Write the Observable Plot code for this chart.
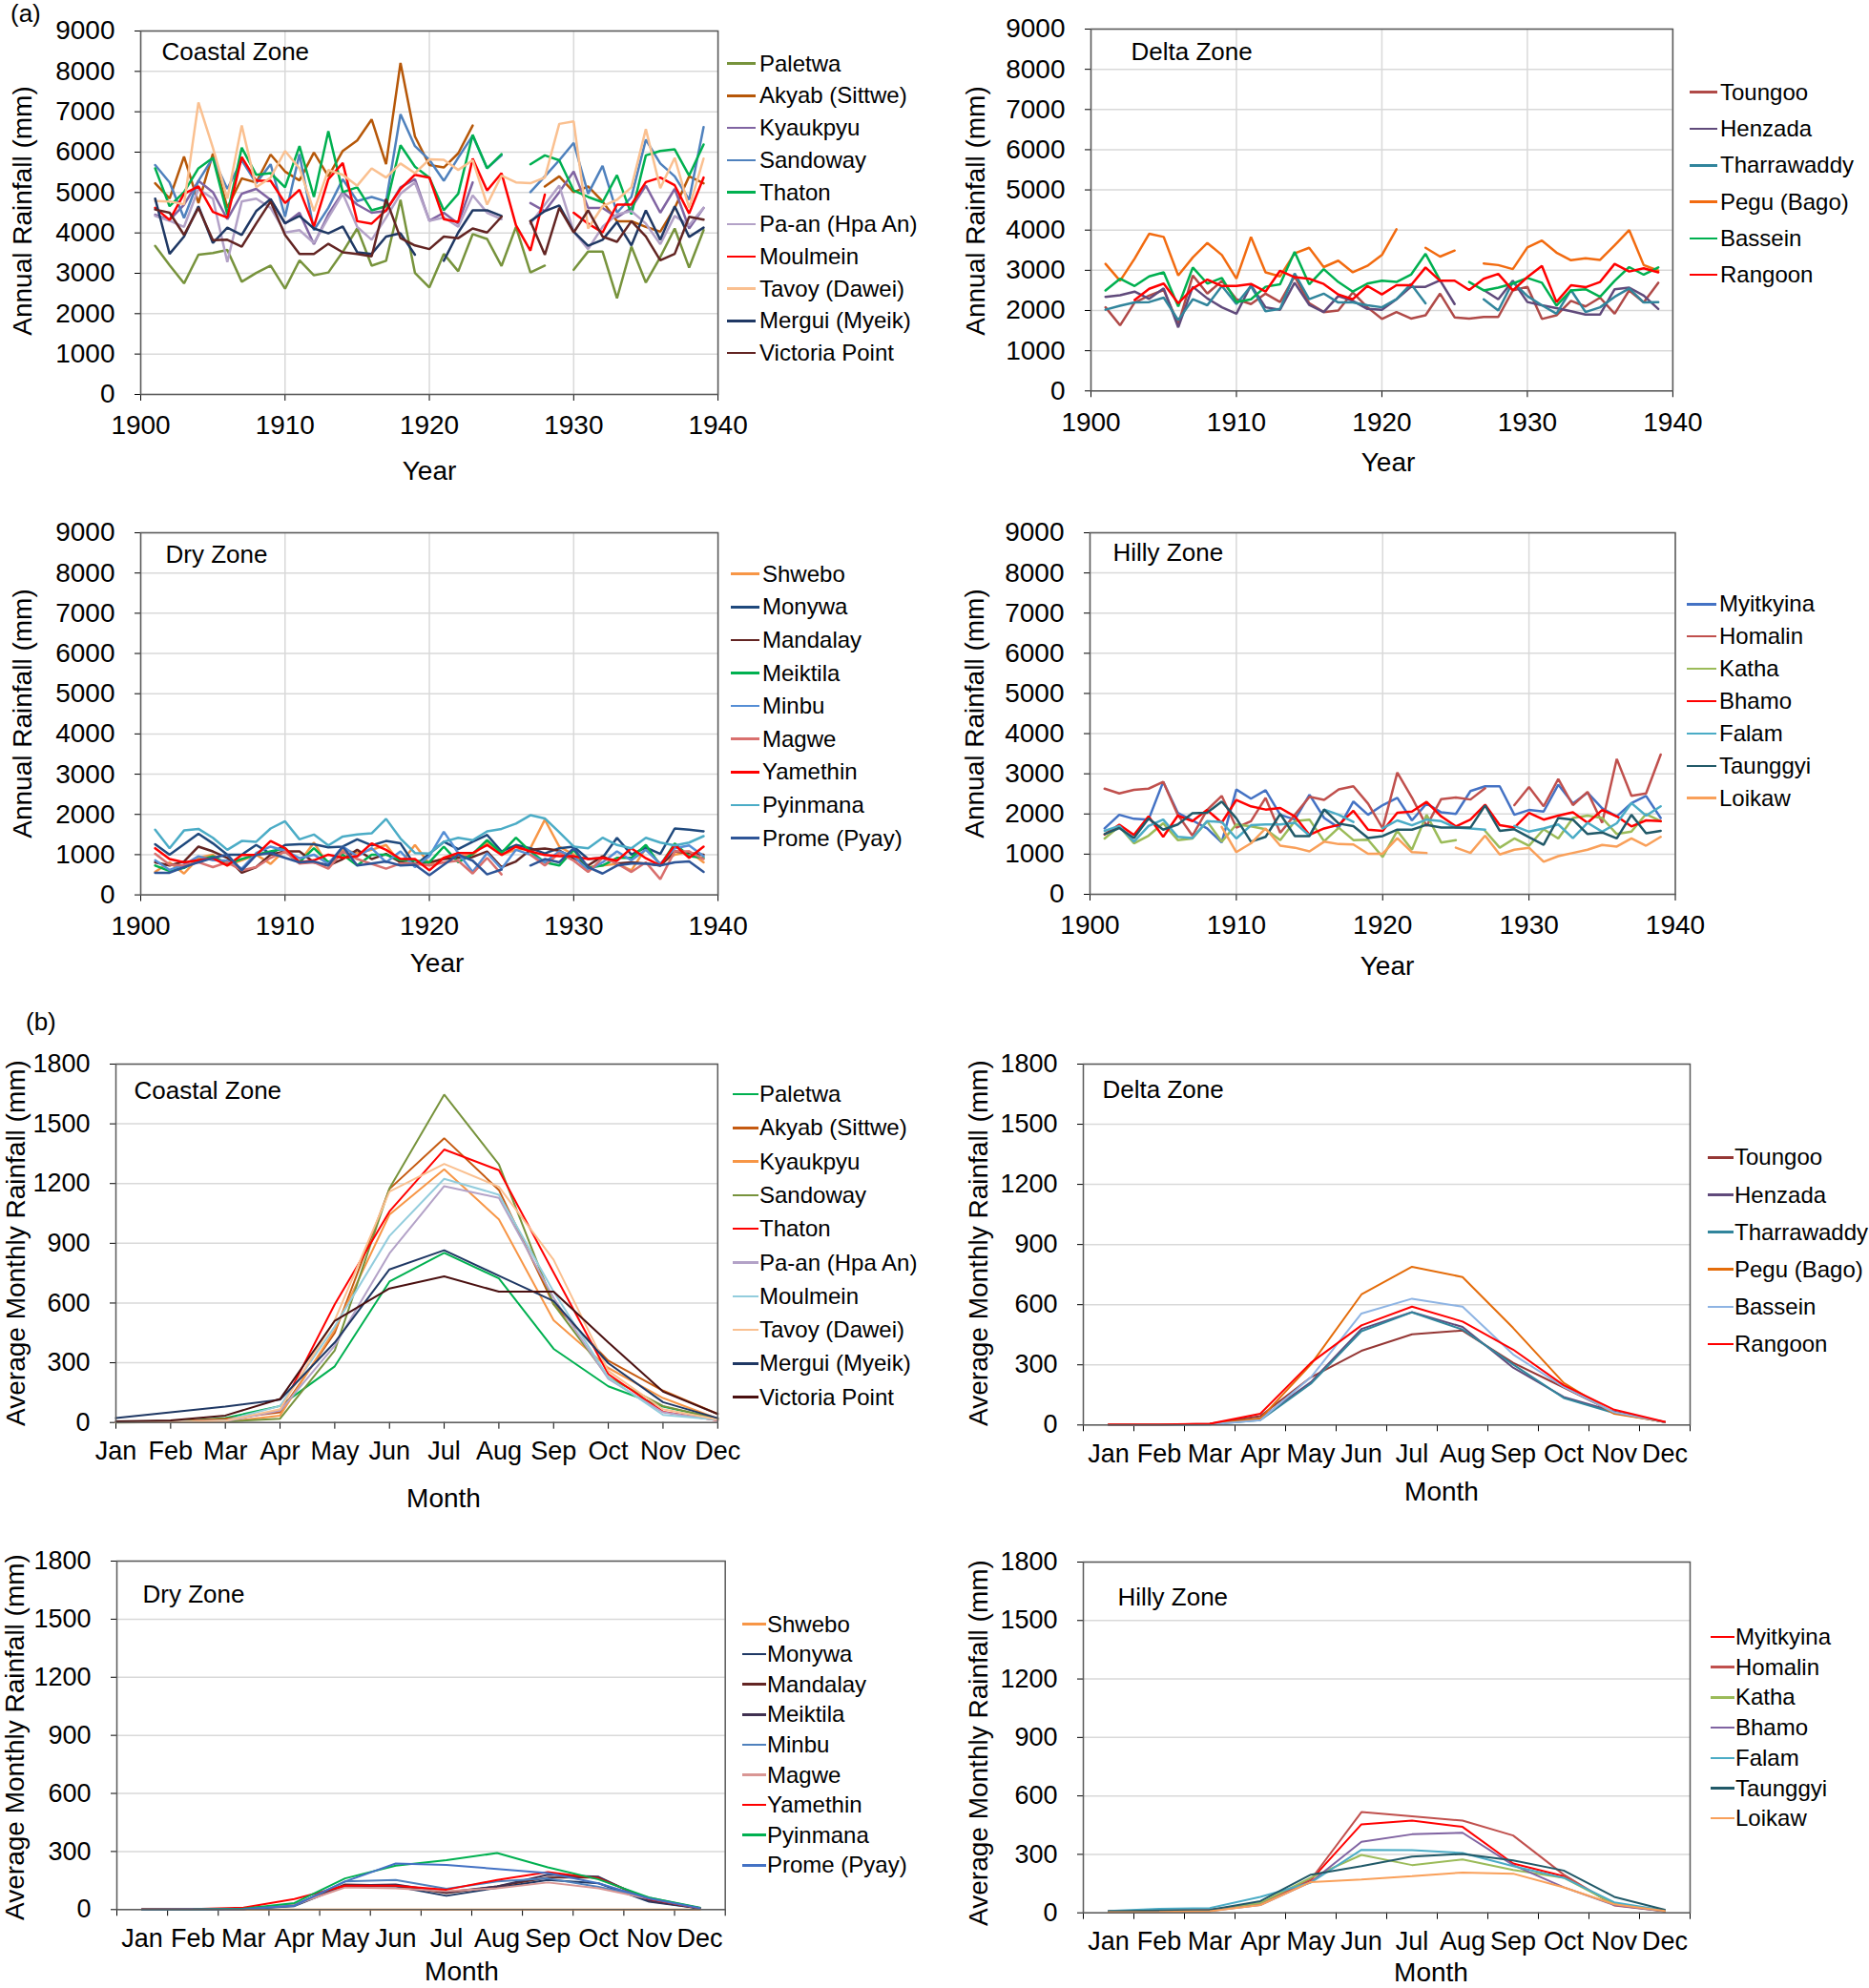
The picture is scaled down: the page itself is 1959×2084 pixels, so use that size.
<!DOCTYPE html>
<html><head><meta charset="utf-8">
<script src="https://cdn.jsdelivr.net/npm/d3@7"></script>
<script src="https://cdn.jsdelivr.net/npm/@observablehq/plot@0.6"></script>
<style>
body{margin:0;background:#fff;}
#root{position:relative;width:1959px;height:2084px;overflow:hidden;font-family:"Liberation Sans",Arial,sans-serif;color:#000;background:#fff;}
.t{position:absolute;white-space:nowrap;line-height:1;}
</style></head><body><div id="root"></div>
<script>
// ---------- categories ----------
const years = [1901,1902,1903,1904,1905,1906,1907,1908,1909,1910,1911,1912,1913,1914,1915,1916,1917,1918,1919,1920,1921,1922,1923,1924,1925,1926,1927,1928,1929,1930,1931,1932,1933,1934,1935,1936,1937,1938,1939];
const months = ["Jan","Feb","Mar","Apr","May","Jun","Jul","Aug","Sep","Oct","Nov","Dec"];
const monthIdx = [0,1,2,3,4,5,6,7,8,9,10,11];
const yearTicks = [1900,1910,1920,1930,1940];
const annualTicks = [0,1000,2000,3000,4000,5000,6000,7000,8000,9000];
const monthlyTicks = [0,300,600,900,1200,1500,1800];

// ---------- (a) Coastal annual ----------
const coastalNames = ["Paletwa","Akyab (Sittwe)","Kyaukpyu","Sandoway","Thaton","Pa-an (Hpa An)","Moulmein","Tavoy (Dawei)","Mergui (Myeik)","Victoria Point"];
const coastalColorsA = ["#77933C","#B65708","#8064A2","#4F81BD","#00B050","#B3A2C7","#FF0000","#FAC090","#1F3864","#632523"];
const paletwaA = [3680,3200,2750,3460,3500,3580,2790,3010,3190,2620,3320,2950,3020,3530,4110,3190,3310,4820,3010,2650,3480,3050,3970,3850,3180,4150,3020,3190,null,3090,3540,3540,2380,3660,2770,3400,4110,3140,4070];
const akyabA = [5230,4850,5890,4740,5960,4620,5350,5250,5940,5520,5300,5990,5400,6030,6290,6810,5700,8210,6390,5680,5620,5970,6660,null,null,null,null,5150,5400,5010,5150,4780,4290,4290,4150,4030,4620,5400,5230];
const kyaukpyuA = [4450,4320,4700,5290,5010,4340,4970,5090,4820,4230,4500,3720,4460,5010,4700,4500,4540,5130,5330,4300,4500,4230,5250,null,null,null,4740,4540,5010,5520,4620,4620,4380,4620,5170,4500,5090,4110,4620];
const sandowayA = [5680,5250,4370,5290,5860,5090,5800,5230,5700,4400,5950,4070,4620,5330,4790,4890,4780,6940,6150,5810,5290,5860,6410,5600,5920,null,5010,5400,5800,6230,4970,5660,4500,4890,6310,5720,5400,4820,6620];
const thatonA = [5600,4660,5010,5600,5860,4460,6110,5440,5480,5130,6150,4890,6520,5010,5130,4560,4660,6170,5640,5370,4560,4970,6430,5600,5950,null,5700,5920,5800,5050,4890,4760,5430,4460,5920,6030,6070,5420,6190];
const paanA = [4420,4300,4150,5090,4850,3280,4780,4850,4620,4010,4070,3750,4380,4970,4150,3830,4380,4970,5250,4300,4380,4150,4930,4500,4340,null,4230,4700,5170,4030,3600,4150,4460,4540,4230,3720,4420,4190,4620];
const moulmeinA = [4620,4320,4970,5150,4520,4380,5880,5290,5290,4740,5070,4160,5330,5730,4290,4230,4560,5090,5440,5370,4340,4270,5840,5050,5480,4190,3560,4950,null,4500,4230,4010,4700,4700,5260,5370,5180,4480,5370];
const tavoyA = [4790,4780,4710,7230,6110,4850,6660,5130,5370,6030,5600,4540,5560,5440,5170,5600,5370,5720,5480,5820,5810,5560,5800,4700,5420,5250,5230,5370,6700,6760,4110,4660,4820,5130,6570,5110,5860,4620,5840];
const merguiA = [4850,3480,3910,4660,3750,4130,3950,4540,4840,4240,4420,4110,3990,4160,3520,3480,3910,3990,3460,null,3310,4010,4560,4560,4420,null,4290,4540,4680,4030,3680,3830,4270,3690,4560,3830,4660,3900,4130];
const victoriaA = [4580,4500,3950,4620,3820,3830,3660,4230,4780,3950,3480,3480,3730,3520,3480,3420,4840,3870,3690,3600,3910,3870,4110,4010,4400,null,4290,3460,4620,4010,4560,3910,3780,4290,3910,3320,3480,4400,4330];

// ---------- (a) Delta annual ----------
const deltaNames = ["Toungoo","Henzada","Tharrawaddy","Pegu (Bago)","Bassein","Rangoon"];
const deltaColorsA = ["#B04A48","#604A7B","#31859C","#F26B10","#00B050","#FF0000"];
const toungooA = [2080,1630,2200,2370,2510,1660,2870,2420,2740,2280,2160,2420,2210,2850,2180,1960,2000,2450,2080,1790,1960,1800,1880,2420,1830,1800,1840,1840,2500,2590,1790,1880,2240,2100,2320,1920,2500,2200,2690];
const henzadaA = [2340,2380,2470,2290,2550,1580,2590,2300,2080,1920,2630,2080,2020,2690,2140,1960,2360,2240,2040,2020,2280,2590,2590,2750,2160,null,2510,2280,2740,2210,2130,2060,1980,1900,1900,2530,2570,2370,2040];
const tharrawaddyA = [2020,2120,2200,2210,2320,1760,2280,2130,2610,2160,2610,1980,2040,2920,2280,2420,2200,2200,2130,2080,2280,2660,2180,null,null,null,2280,2000,2710,2360,2130,1920,2510,1960,2080,2340,2550,2200,2210];
const peguA = [3160,2740,3290,3910,3830,2870,3320,3680,3380,2790,3830,2950,2850,3420,3560,3080,3240,2950,3110,3380,4020,null,3560,3340,3490,null,3170,3130,3030,3570,3740,3440,3250,3300,3260,3620,4000,3130,2990];
const basseinA = [2500,2790,2610,2850,2950,2100,3070,2670,2810,2210,2280,2590,2650,3460,2650,3030,2710,2470,2670,2740,2710,2890,3410,2750,null,2710,2500,2570,2670,2810,2690,2120,2500,2530,2340,2740,3080,2890,3070];
const rangoonA = [null,null,2260,2540,2670,2180,2550,2770,2610,2610,2660,2470,2990,2830,2790,2660,2400,2280,2610,2400,2630,2630,3070,2740,2740,2510,2790,2910,2500,2830,3110,2210,2630,2580,2710,3160,2970,3050,2950];

// ---------- (a) Dry annual ----------
const dryNames = ["Shwebo","Monywa","Mandalay","Meiktila","Minbu","Magwe","Yamethin","Pyinmana","Prome (Pyay)"];
const dryColorsA = ["#F79646","#1F497D","#632523","#00B050","#558ED5","#D9706E","#FF0000","#4BACC6","#2E5597"];
const shweboA = [570,810,530,920,1000,730,860,1000,770,1120,810,1300,730,1120,1040,1120,1240,780,1240,770,920,960,990,1320,1000,1120,1160,1870,1200,1000,690,730,770,610,1160,770,1000,1080,810];
const monywaA = [1260,1000,1260,1520,1280,1000,1000,1240,1020,1240,1260,1260,1180,1200,1380,1230,1340,1280,730,1020,1320,1140,1320,1490,1080,1240,1160,1030,1160,1200,890,920,1420,1000,1180,1020,1650,1620,1580];
const mandalayA = [810,730,830,1200,1080,920,550,690,1000,1080,1080,810,730,890,1120,890,1020,810,770,810,890,920,940,1080,690,830,1120,1150,1100,910,730,960,780,810,780,730,1080,1040,1000];
const meiktilaA = [730,590,670,860,960,770,890,1000,1080,1160,810,1160,810,1000,730,1000,1000,860,850,810,1200,810,1020,1360,1040,1420,1080,810,730,1120,670,730,920,920,1240,730,1280,960,920];
const minbuA = [860,620,750,960,860,850,650,1040,1200,1100,910,1000,770,1200,960,1160,810,1080,690,960,1570,1040,570,1040,650,1120,1000,810,1080,960,610,810,1080,860,1120,770,1160,1230,960];
const magweA = [1020,750,730,810,690,810,610,690,920,1080,780,810,650,1080,890,770,650,780,770,730,810,850,530,920,510,null,1000,730,1040,850,570,920,780,570,810,390,1080,1080,890];
const yamethinA = [1160,890,810,860,910,730,990,990,1340,1160,810,860,1000,920,960,1280,1120,890,890,610,920,1040,1040,1240,990,1200,1080,990,960,960,890,920,850,1160,910,730,1240,920,1200];
const pyinmanaA = [1620,1160,1600,1640,1420,1120,1340,1320,1650,1830,1380,1500,1230,1450,1500,1530,1890,1400,1040,1030,1320,1420,1360,1580,1640,1770,1980,1900,1560,1200,1160,1420,1240,1160,1420,1300,1230,1300,1460];
const promeA = [550,550,690,810,920,1000,610,990,1040,920,810,830,730,1200,730,780,830,730,750,490,750,1000,850,510,630,null,730,890,810,1160,690,530,730,780,780,730,810,830,570];

// ---------- (a) Hilly annual ----------
const hillyNames = ["Myitkyina","Homalin","Katha","Bhamo","Falam","Taunggyi","Loikaw"];
const hillyColorsA = ["#4472C4","#C0504D","#9BBB59","#FF0000","#4BACC6","#215968","#F9A05A"];
const myitkyinaA = [1640,1980,1880,1860,2800,2030,1840,1640,1290,2610,2380,2590,1980,1860,2480,1900,1660,2310,1980,2220,2400,1840,2260,2040,2000,2570,2690,2690,1980,2100,2060,2730,2260,2530,2140,1940,2270,2450,1900];
const homalinA = [2630,2510,2600,2630,2800,1980,1460,2100,2450,1660,1820,2400,1530,1980,2430,2350,2610,2690,2260,1640,3030,2410,1700,2370,2410,2360,2640,null,2220,2670,2190,2870,2220,2550,1780,3370,2450,2510,3480];
const kathaA = [1390,1690,1270,1460,1770,1350,1390,1820,1310,1740,1690,1620,1350,1820,1860,1320,1660,1350,1360,930,1580,1110,1980,1290,1350,null,1580,1160,1390,1210,1620,1390,1900,1960,1900,1500,1560,2000,1820];
const bhamoA = [1490,1730,1480,1940,1430,1960,1820,2100,1780,2350,2190,2110,2150,1940,1480,1640,1730,2080,1610,1580,2030,2060,2300,1940,1690,1860,2230,1720,1660,2030,1860,1960,2040,1780,2100,1940,1690,1840,1820];
const falamA = [1580,1700,1310,1700,1860,1430,1400,1820,1800,1390,1720,1740,1740,1780,1460,2110,1980,1800,null,1640,1840,1720,1860,1820,1660,1640,1610,null,1700,1560,1640,1740,1400,1780,1560,1770,2270,1960,2190];
const taunggyiA = [1500,1650,1400,1890,1610,1740,2020,2030,2310,1890,1310,1430,2000,1450,1450,2110,1760,1700,1400,1450,1610,1610,1730,1660,1660,1660,2210,1580,1620,1420,1230,1900,1860,1500,1540,1390,1980,1520,1580];
const loikawA = [null,null,null,null,null,null,null,null,1680,1050,1270,1640,1210,1160,1070,1310,1250,1240,1010,1010,1400,1050,1030,null,1160,1030,1460,990,1110,1160,810,950,1030,1110,1230,1190,1390,1210,1430];

// ---------- (b) monthly ----------
const coastalColorsB = ["#00B050","#C55A11","#F79646","#77933C","#FF0000","#B3A2C7","#93CDDD","#FAC090","#1F3864","#4A1010"];
const paletwaB = [1,2,22,83,282,708,852,724,370,182,80,19];
const akyabB = [2,3,19,51,450,1173,1428,1168,594,310,160,43];
const kyaukpyuB = [1,1,3,35,466,1044,1272,1020,514,274,123,19];
const sandowayB = [0,2,5,19,362,1176,1647,1296,594,227,83,19];
const thatonB = [2,3,10,59,594,1060,1371,1267,753,243,54,11];
const paanB = [1,2,6,59,386,849,1187,1128,626,219,51,12];
const moulmeinB = [1,3,10,83,482,937,1224,1144,657,227,38,14];
const tavoyB = [1,2,8,67,514,1160,1299,1184,817,259,67,15];
const merguiB = [22,51,80,115,402,769,865,737,610,298,102,22];
const victoriaB = [6,11,35,118,511,673,734,657,657,402,155,43];

const deltaColorsB = ["#953735","#604A7B","#31859C","#E46C0A","#8EB4E3","#FF0000"];
const toungooB = [2,2,6,44,238,370,452,471,310,187,63,14];
const henzadaB = [1,1,4,32,214,479,563,489,286,140,67,14];
const tharrawaddyB = [1,1,3,24,206,468,562,476,302,135,60,14];
const peguB = [3,3,5,32,302,651,789,738,484,210,56,16];
const basseinB = [1,1,3,24,238,556,630,590,352,190,63,16];
const rangoonB = [3,3,6,56,310,497,590,516,376,198,76,16];

const dryColorsB = ["#F79646","#1F3864","#632523","#403151","#4F81BD","#D99694","#FF0000","#00B050","#4472C4"];
const shweboB = [0,0,0,0,0,0,0,0,0,0,0,0];
const monywaB = [1,1,3,18,123,120,71,112,153,136,41,6];
const mandalayB = [1,2,5,25,130,125,85,120,165,166,50,6];
const meiktilaB = [1,2,5,22,125,130,90,120,180,170,45,6];
const minbuB = [1,2,4,20,145,153,107,145,161,117,62,8];
const magweB = [1,2,4,25,115,110,95,110,140,110,55,8];
const yamethinB = [1,3,10,54,123,123,103,153,194,161,54,8];
const pyinmanaB = [0,2,5,34,161,227,255,292,218,156,62,10];
const promeB = [0,1,3,21,145,238,230,210,189,136,57,8];

const hillyColorsB = ["#FF0000","#C0504D","#9BBB59","#8064A2","#4BACC6","#215968","#F9A05A"];
const myitkyinaB = [8,12,14,45,168,454,473,441,253,188,44,10];
const homalinB = [8,11,16,49,171,517,495,473,397,196,38,8];
const kathaB = [5,8,10,50,180,297,245,274,220,180,45,8];
const bhamoB = [5,8,10,40,158,364,403,411,245,131,40,8];
const falamB = [10,20,24,82,155,323,322,307,240,180,54,12];
const taunggyiB = [8,12,15,60,196,240,289,302,269,217,82,16];
const loikawB = [3,5,8,40,158,171,188,207,201,131,44,10];

// ---------- drawing ----------
const FONT = '"Liberation Sans", Arial, sans-serif';
const root = document.getElementById("root");

function addText(txt, x, y, size, opts = {}) {
  const d = document.createElement("div");
  d.className = "t";
  d.textContent = txt;
  d.style.fontSize = size + "px";
  d.style.left = x + "px";
  d.style.top = y + "px";
  d.style.transform = opts.transform || "translate(-50%,-50%)";
  root.appendChild(d);
  return d;
}

function panel(c) {
  const ML = 110, MR = 12, MT = 16, MB = 64;
  const pw = c.right - c.left, ph = c.bottom - c.top;
  const rows = [];
  c.names.forEach((n, i) => c.xs.forEach((x, j) => rows.push({station: n, x, y: c.values[i][j]})));
  const grid = {stroke: "#d9d9d9", strokeOpacity: 1, strokeWidth: 1.5};
  const marks = [Plot.gridY(c.yTicks, grid)];
  if (c.annual) marks.push(Plot.gridX(yearTicks, grid));
  marks.push(Plot.axisY(c.yTicks, {tickSize: 6, tickPadding: 21, tickFormat: d => String(d), label: null, fontSize: c.tickFont}));
  if (c.annual) {
    marks.push(Plot.axisX(yearTicks, {tickSize: 7, tickPadding: 15, tickFormat: d => String(d), label: null, fontSize: c.tickFont}));
  } else {
    marks.push(Plot.axisX(c.tickMarks, {tickSize: 7, tickFormat: () => "", label: null}));
    marks.push(Plot.axisX(monthIdx, {tickSize: 0, tickPadding: 20, tickFormat: i => months[i], label: null, fontSize: c.tickFont}));
  }
  marks.push(Plot.line(rows, {x: "x", y: "y", z: "station", stroke: "station", strokeWidth: c.sw, strokeLinejoin: "miter"}));
  marks.push(Plot.frame({stroke: "#595959", strokeWidth: 1.5}));
  marks.push(Plot.text([c.title], {frameAnchor: "top-left", dx: c.tdx, dy: c.tdy, textAnchor: "start", lineAnchor: "top", fontSize: 26, fill: "#000"}));
  const svg = Plot.plot({
    width: pw + ML + MR, height: ph + MT + MB,
    marginLeft: ML, marginRight: MR, marginTop: MT, marginBottom: MB,
    x: {type: "linear", domain: c.xDomain},
    y: {type: "linear", domain: [0, c.ymax]},
    color: {domain: c.names, range: c.colors},
    style: {fontFamily: FONT, fontSize: c.tickFont + "px", color: "#000", background: "transparent", overflow: "visible"},
    marks
  });
  svg.style.position = "absolute";
  svg.style.left = (c.left - ML) + "px";
  svg.style.top = (c.top - MT) + "px";
  root.appendChild(svg);

  // legend
  c.names.forEach((n, i) => {
    const y = c.lg.y0 + i * c.lg.dy;
    const ln = document.createElement("div");
    ln.style.position = "absolute";
    ln.style.left = c.lg.x0 + "px";
    ln.style.width = (c.lg.x1 - c.lg.x0) + "px";
    ln.style.top = (y - 1.25) + "px";
    ln.style.height = "2.5px";
    ln.style.background = c.colors[i];
    root.appendChild(ln);
    addText(n, c.lg.tx, y, 24, {transform: "translate(0,-50%)"});
  });
  // axis titles
  addText(c.ylabel, c.ylx, c.yly, 28, {transform: "translate(-50%,-50%) rotate(-90deg)"});
  addText(c.xlabel, c.xlx, c.xly, 28);
}

const annualLabel = "Annual Rainfall (mm)";
const monthlyLabel = "Average Monthly Rainfall (mm)";

panel({annual: true, names: coastalNames, colors: coastalColorsA, xs: years,
  values: [paletwaA, akyabA, kyaukpyuA, sandowayA, thatonA, paanA, moulmeinA, tavoyA, merguiA, victoriaA],
  left: 147.2, right: 752.3, top: 31.7, bottom: 412.7, xDomain: [1900, 1940], ymax: 9000, yTicks: annualTicks,
  title: "Coastal Zone", tdx: 22, tdy: 12, sw: 2.5, tickFont: 28,
  lg: {x0: 762, x1: 792, tx: 796, y0: 66.7, dy: 33.7},
  ylabel: annualLabel, ylx: 24, yly: 221, xlabel: "Year", xlx: 450, xly: 494});

panel({annual: true, names: deltaNames, colors: deltaColorsA, xs: years,
  values: [toungooA, henzadaA, tharrawaddyA, peguA, basseinA, rangoonA],
  left: 1143, right: 1752.9, top: 30, bottom: 409.3, xDomain: [1900, 1940], ymax: 9000, yTicks: annualTicks,
  title: "Delta Zone", tdx: 42, tdy: 14, sw: 2.5, tickFont: 28,
  lg: {x0: 1771, x1: 1800, tx: 1803, y0: 96.7, dy: 38.3},
  ylabel: annualLabel, ylx: 1023, yly: 221, xlabel: "Year", xlx: 1455, xly: 485});

panel({annual: true, names: dryNames, colors: dryColorsA, xs: years,
  values: [shweboA, monywaA, mandalayA, meiktilaA, minbuA, magweA, yamethinA, pyinmanaA, promeA],
  left: 147.2, right: 752.3, top: 557.7, bottom: 937.3, xDomain: [1900, 1940], ymax: 9000, yTicks: annualTicks,
  title: "Dry Zone", tdx: 26, tdy: 13, sw: 2.5, tickFont: 28,
  lg: {x0: 766, x1: 796, tx: 799, y0: 601.7, dy: 34.6},
  ylabel: annualLabel, ylx: 24, yly: 748, xlabel: "Year", xlx: 458, xly: 1010});

panel({annual: true, names: hillyNames, colors: hillyColorsA, xs: years,
  values: [myitkyinaA, homalinA, kathaA, bhamoA, falamA, taunggyiA, loikawA],
  left: 1142.2, right: 1755.7, top: 557.7, bottom: 936.7, xDomain: [1900, 1940], ymax: 9000, yTicks: annualTicks,
  title: "Hilly Zone", tdx: 24, tdy: 11, sw: 2.5, tickFont: 28,
  lg: {x0: 1768, x1: 1799, tx: 1802, y0: 633.3, dy: 33.9},
  ylabel: annualLabel, ylx: 1022, yly: 748, xlabel: "Year", xlx: 1454, xly: 1013});

panel({annual: false, names: coastalNames, colors: coastalColorsB, xs: monthIdx,
  values: [paletwaB, akyabB, kyaukpyuB, sandowayB, thatonB, paanB, moulmeinB, tavoyB, merguiB, victoriaB],
  left: 121.2, right: 752, top: 1115, bottom: 1490.7, xDomain: [0, 11], ymax: 1800, yTicks: monthlyTicks,
  tickMarks: monthIdx, title: "Coastal Zone", tdx: 19, tdy: 18, sw: 2, tickFont: 27,
  lg: {x0: 768, x1: 795, tx: 796, y0: 1147, dy: 35.3},
  ylabel: monthlyLabel, ylx: 17, yly: 1303, xlabel: "Month", xlx: 465, xly: 1571});

const betweenTicks = [-0.5,0.5,1.5,2.5,3.5,4.5,5.5,6.5,7.5,8.5,9.5,10.5,11.5];

panel({annual: false, names: deltaNames, colors: deltaColorsB, xs: monthIdx,
  values: [toungooB, henzadaB, tharrawaddyB, peguB, basseinB, rangoonB],
  left: 1135.3, right: 1771.3, top: 1115, bottom: 1493.3, xDomain: [-0.5, 11.5], ymax: 1800, yTicks: monthlyTicks,
  tickMarks: betweenTicks, title: "Delta Zone", tdx: 20, tdy: 17, sw: 2, tickFont: 27,
  lg: {x0: 1790, x1: 1817, tx: 1818, y0: 1213.4, dy: 39.1},
  ylabel: monthlyLabel, ylx: 1026, yly: 1303, xlabel: "Month", xlx: 1511, xly: 1564});

panel({annual: false, names: dryNames, colors: dryColorsB, xs: monthIdx,
  values: [shweboB, monywaB, mandalayB, meiktilaB, minbuB, magweB, yamethinB, pyinmanaB, promeB],
  left: 122, right: 759.7, top: 1635.7, bottom: 2001, xDomain: [-0.5, 11.5], ymax: 1800, yTicks: monthlyTicks,
  tickMarks: betweenTicks, title: "Dry Zone", tdx: 27, tdy: 25, sw: 2, tickFont: 27,
  lg: {x0: 777.5, x1: 803, tx: 804, y0: 1702.5, dy: 31.6},
  ylabel: monthlyLabel, ylx: 16, yly: 1821, xlabel: "Month", xlx: 484, xly: 2067});

panel({annual: false, names: hillyNames, colors: hillyColorsB, xs: monthIdx,
  values: [myitkyinaB, homalinB, kathaB, bhamoB, falamB, taunggyiB, loikawB],
  left: 1135.3, right: 1771.3, top: 1637.3, bottom: 2005, xDomain: [-0.5, 11.5], ymax: 1800, yTicks: monthlyTicks,
  tickMarks: betweenTicks, title: "Hilly Zone", tdx: 36, tdy: 27, sw: 2, tickFont: 27,
  lg: {x0: 1793, x1: 1818, tx: 1819, y0: 1716, dy: 31.7},
  ylabel: monthlyLabel, ylx: 1026, yly: 1827, xlabel: "Month", xlx: 1500, xly: 2068});

addText("(a)", 11, 1, 26, {transform: "none"});
addText("(b)", 27, 1058, 26, {transform: "none"});
</script>
</body></html>
